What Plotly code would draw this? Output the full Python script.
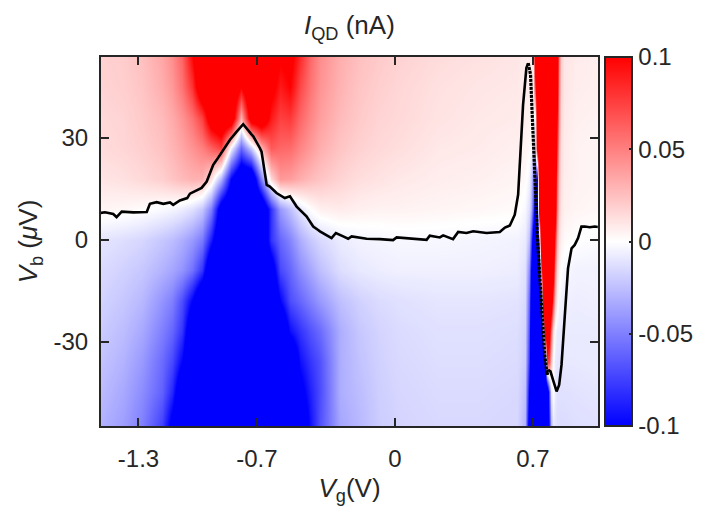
import plotly.graph_objects as go

# gate voltage of the map columns (V)
vg_nodes = [-1.50, -1.38, -1.28, -1.18, -1.13, -1.08, -1.03, -0.98, -0.93, -0.88,
            -0.83, -0.78, -0.73, -0.68, -0.63, -0.58, -0.53, -0.48, -0.43, -0.38,
            -0.28, -0.18, -0.08, 0.02, 0.22, 0.42, 0.62, 0.66, 0.68, 0.69,
            0.70, 0.71, 0.72, 0.73, 0.74, 0.75, 0.76, 0.77, 0.78, 0.79,
            0.80, 0.81, 0.82, 0.83, 0.84, 0.86, 0.92, 1.04]

# bias of the map rows (uV), top to bottom
vb_rows = [55, 45, 36, 27, 18, 9, 0, -9, -18, -27, -36, -45, -55]

# I_QD along each bias row, in pA
iqd_b55 = [18, 20, 25, 35, 45, 62, 100, 140, 140, 140, 140, 140, 140, 140, 120, 105, 110, 85, 60, 45,
           32, 25, 21, 18, 14, 12, 10, 8, 8, 8, 10, 140, 140, 140, 140, 140, 140, 140, 140, 140,
           140, 140, 120, 50, 20, 10, 8, 6]
iqd_b45 = [17, 19, 23, 32, 40, 55, 80, 130, 140, 140, 140, 100, 140, 140, 110, 90, 100, 72, 55, 42,
           30, 23, 19, 16, 12, 10, 9, 7, 7, 7, 8, 80, 140, 140, 140, 140, 140, 140, 140, 140,
           140, 140, 110, 45, 18, 10, 7, 6]
iqd_b36 = [15, 17, 21, 27, 33, 42, 55, 75, 120, 140, 130, 30, 120, 130, 90, 75, 78, 60, 48, 38,
           27, 21, 17, 15, 11, 9, 8, 6, 5, 4, 0, -5, 140, 140, 140, 140, 140, 140, 140, 140,
           140, 140, 95, 40, 15, 9, 6, 5]
iqd_b27 = [14, 16, 19, 24, 29, 35, 42, 50, 62, 75, -5, -60, -20, 30, 65, 60, 58, 48, 40, 32,
           23, 18, 15, 13, 9, 8, 6, 4, 3, 0, -10, -25, 110, 140, 140, 140, 140, 140, 140, 140,
           140, 140, 80, 30, 13, 8, 5, 4]
iqd_b18 = [10, 12, 15, 19, 23, 27, 30, 30, 12, -30, -100, -140, -140, -50, 15, 40, 38, 32, 27, 23,
           17, 13, 11, 9, 7, 6, 4, 2, -5, -20, -45, -80, -100, 140, 140, 140, 140, 140, 140, 140,
           140, 130, 60, 25, 12, 7, 5, 4]
iqd_b9 = [4, 3, 1, -2, -4, -7, -12, -22, -50, -120, -140, -140, -140, -140, -80, -40, -25, -10, 0, 6,
          8, 6, 5, 5, 4, 3, 2, -3, -12, -30, -70, -120, -140, 120, 140, 140, 140, 140, 140, 140,
          140, 120, 50, 20, 10, 6, 4, 3]
iqd_b0 = [-10, -13, -16, -22, -26, -32, -40, -52, -90, -140, -140, -140, -140, -140, -80, -60, -48, -32, -22, -15,
          -8, -5, -4, -3, -3, -4, -5, -8, -25, -70, -120, -140, -140, -40, 140, 140, 140, 140, 140, 140,
          140, 80, 30, 12, 6, 2, 0, -2]
iqd_bm9 = [-14, -18, -22, -30, -35, -42, -55, -80, -140, -140, -140, -140, -140, -140, -120, -72, -60, -45, -35, -25,
           -13, -9, -7, -6, -6, -6, -7, -12, -45, -100, -140, -140, -140, -140, 60, 140, 140, 140, 140, 140,
           120, 50, 15, 4, 0, -3, -5, -5]
iqd_bm18 = [-17, -22, -28, -42, -50, -70, -100, -140, -140, -140, -140, -140, -140, -140, -140, -100, -70, -60, -50, -40,
            -25, -18, -14, -12, -10, -10, -11, -15, -60, -120, -140, -140, -140, -140, -100, 140, 140, 140, 140, 130,
            70, 25, 5, -3, -5, -6, -7, -6]
iqd_bm27 = [-20, -26, -34, -50, -60, -80, -130, -140, -140, -140, -140, -140, -140, -140, -140, -140, -95, -80, -68, -58,
            -32, -22, -17, -14, -12, -12, -13, -18, -70, -130, -140, -140, -140, -140, -140, -20, 140, 140, 120, 60,
            15, -3, -8, -8, -8, -8, -8, -8]
iqd_bm36 = [-23, -30, -40, -58, -72, -100, -140, -140, -140, -140, -140, -140, -140, -140, -140, -140, -140, -95, -80, -68,
            -32, -24, -18, -15, -13, -13, -14, -20, -80, -135, -140, -140, -140, -140, -140, -140, -100, 80, 70, 25,
            0, -8, -10, -10, -10, -9, -9, -8]
iqd_bm45 = [-26, -34, -45, -62, -85, -130, -140, -140, -140, -140, -140, -140, -140, -140, -140, -140, -140, -110, -88, -70,
            -32, -26, -19, -16, -14, -14, -15, -25, -100, -140, -140, -140, -140, -140, -140, -140, -140, -140, -70, -10,
            0, -8, -12, -12, -12, -12, -11, -10]
iqd_bm55 = [-30, -38, -50, -75, -110, -140, -140, -140, -140, -140, -140, -140, -140, -140, -140, -140, -140, -135, -95, -68,
            -35, -28, -20, -17, -15, -15, -16, -30, -120, -140, -140, -140, -140, -140, -140, -140, -140, -140, -90, -30,
            -10, -12, -14, -14, -14, -14, -13, -12]

# black trace: solid rise, dotted drop, solid dip
rise_vg = [-1.495, -1.470, -1.428, -1.411, -1.385, -1.326, -1.258, -1.242, -1.208, -1.174,
           -1.140, -1.124, -1.090, -1.053, -1.039, -1.005, -0.980, -0.954, -0.921, -0.904,
           -0.845, -0.836, -0.802, -0.794, -0.769, -0.726, -0.718, -0.684, -0.676, -0.650,
           -0.634, -0.600, -0.558, -0.532, -0.498, -0.448, -0.414, -0.389, -0.380, -0.321,
           -0.299, -0.262, -0.237, -0.219, -0.143, -0.076, -0.009, 0.009, 0.093, 0.161,
           0.177, 0.228, 0.245, 0.295, 0.321, 0.363, 0.397, 0.465, 0.532, 0.558,
           0.583, 0.608, 0.625, 0.637, 0.650, 0.667, 0.676]
rise_vb = [7.9, 8.1, 7.6, 6.7, 8.3, 8.1, 8.2, 10.6, 11.1, 10.6,
           11.0, 10.3, 11.6, 12.3, 13.6, 14.5, 15.3, 17.2, 22.1, 23.5,
           29.0, 29.5, 31.9, 32.4, 34.1, 31.0, 30.5, 27.0, 26.0, 16.2,
           15.7, 13.8, 12.3, 12.8, 9.8, 6.9, 3.9, 2.9, 2.5, 0.5,
           2.0, 1.0, 0.3, 1.0, 0.3, 0.2, -0.1, 0.7, 0.3, 0.0,
           1.2, 0.7, 1.3, 0.2, 2.3, 2.0, 2.5, 2.0, 2.3, 3.6,
           4.2, 7.4, 13.3, 25.1, 39.8, 50.7, 52.1]
drop_vg = [0.676, 0.688, 0.698, 0.710, 0.723, 0.744, 0.760, 0.772, 0.777]
drop_vb = [52.1, 48.7, 34.9, 15.3, 0.5, -19.2, -33.9, -39.8, -38.3]
dip_vg = [0.777, 0.789, 0.802, 0.820, 0.833, 0.845, 0.862, 0.878, 0.896, 0.912,
          0.929, 0.946, 0.963, 0.988, 1.014, 1.029]
dip_vb = [-38.3, -38.8, -41.3, -44.7, -42.8, -36.9, -22.1, -8.4, -2.5, -1.5,
          0.5, 3.9, 3.9, 3.7, 3.9, 3.8]

INK = "#262626"
FONT = "Liberation Sans"

rows = [iqd_b55, iqd_b45, iqd_b36, iqd_b27, iqd_b18, iqd_b9, iqd_b0,
        iqd_bm9, iqd_bm18, iqd_bm27, iqd_bm36, iqd_bm45, iqd_bm55]
z = [[v / 1000 for v in r] for r in rows[::-1]]  # pA -> nA, bottom row first

fig = go.Figure()
fig.add_trace(go.Heatmap(
    x=vg_nodes, y=vb_rows[::-1], z=z,
    zmin=-0.1, zmax=0.1, zsmooth="best",
    colorscale=[[0, "rgb(0,0,255)"], [0.5, "rgb(255,255,255)"], [1, "rgb(255,0,0)"]],
    colorbar=dict(
        x=1.014, xanchor="left", xpad=0, y=0.5, yanchor="middle", ypad=0,
        len=1, thickness=27, outlinewidth=2, outlinecolor=INK,
        tickvals=[-0.1, -0.05, 0, 0.05, 0.1],
        ticktext=["-0.1", "-0.05", "0", "0.05", "0.1"],
        ticks="inside", ticklen=4, tickwidth=1.5, tickcolor=INK,
        tickfont=dict(family=FONT, size=24, color=INK),
    ),
    hoverinfo="skip",
))

line_style = dict(color="black", width=2.6)
fig.add_trace(go.Scatter(x=rise_vg, y=rise_vb, mode="lines", line=line_style, showlegend=False))
fig.add_trace(go.Scatter(x=drop_vg, y=drop_vb, mode="lines",
                         line=dict(color="black", width=3.2, dash="3px,1px"), showlegend=False))
fig.add_trace(go.Scatter(x=dip_vg, y=dip_vb, mode="lines", line=line_style, showlegend=False))

axis_common = dict(
    showgrid=False, zeroline=False, showline=True, linewidth=2, linecolor=INK,
    mirror="ticks", ticks="inside", ticklen=8, tickwidth=2, tickcolor=INK,
    tickfont=dict(family=FONT, size=24, color=INK),
)

fig.update_xaxes(
    range=[-1.49, 1.03],
    tickvals=[-1.3, -0.7, 0, 0.7], ticktext=["-1.3", "-0.7", "0", "0.7"],
    ticklabelstandoff=10,
    title=dict(text="<i>V</i><sub>g</sub>(V)", font=dict(family=FONT, size=26, color=INK), standoff=8),
    **axis_common,
)
fig.update_yaxes(
    range=[-54.9, 53.9],
    tickvals=[-30, 0, 30], ticktext=["-30", "0", "30"],
    ticklabelstandoff=6,
    title=dict(text="<i>V</i><sub>b</sub> (<i>μ</i>V)", font=dict(family=FONT, size=26, color=INK), standoff=8),
    **axis_common,
)

fig.update_layout(
    width=721, height=520,
    margin=dict(l=101, r=123, t=57, b=94),
    paper_bgcolor="white", plot_bgcolor="white",
    title=dict(text="<i>I</i><sub>QD</sub> (nA)", x=0.4846, xanchor="center",
               y=0.952, yanchor="middle", yref="container",
               font=dict(family=FONT, size=26, color=INK)),
    showlegend=False,
)

# drop the page's default body margin so the figure sits at the window corner
fig.write_html("out.html", config={"displayModeBar": False},
               post_script="document.body.style.margin = '0';")
